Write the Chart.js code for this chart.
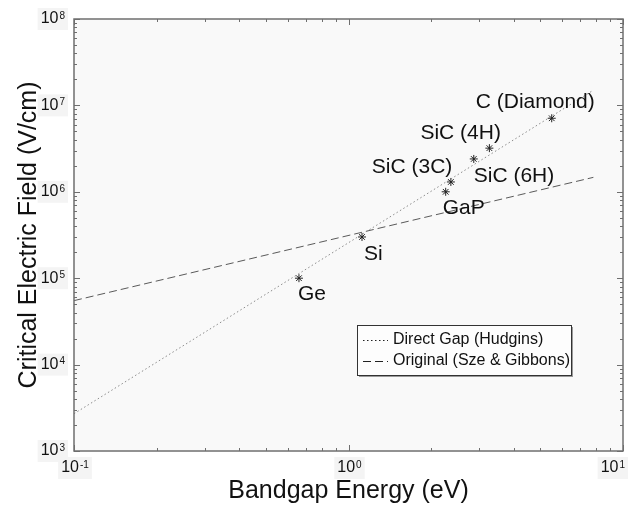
<!DOCTYPE html>
<html>
<head>
<meta charset="utf-8">
<script src="https://cdn.jsdelivr.net/npm/chart.js@4.4.1/dist/chart.umd.min.js"></script>
<style>
  html, body { margin: 0; padding: 0; background: #ffffff; }
  #grafico { display: block; }
</style>
</head>
<body>
<canvas id="grafico" width="629" height="510"></canvas>
<script>
// --- DATOS ---
const materiales = ['Ge', 'Si', 'GaP', 'SiC (3C)', 'SiC (6H)', 'SiC (4H)', 'C (Diamond)'];
const bandgap = [0.66, 1.12, 2.26, 2.36, 2.86, 3.26, 5.5];        // eV
const campoCritico = [1e5, 3e5, 1e6, 1.3e6, 2.4e6, 3.2e6, 7.1e6];  // V/cm

// rectas de ajuste (extremos)
const hudginsX = [0.1, 7.8];
const hudginsY = [2.7e3, 1.5e7];
const szeX = [0.1, 7.8];
const szeY = [5.5e4, 1.47e6];

const serieNombres = ['Direct Gap (Hudgins)', 'Original (Sze & Gibbons)'];
const exponentesX = [-1, 0, 1];
const exponentesY = [3, 4, 5, 6, 7, 8];

// --- ESTILO ---
const FUENTE = "'Liberation Sans', Arial, sans-serif";
const COLOR_EJE = '#6f6f6f';
// desplazamiento de cada etiqueta respecto a su punto (px)
const offsetsEtiquetas = [[-1, 16], [2, 17], [-3, 16], [-79, -15], [0, 17], [-69, -15], [-76, -16]];

const puntos = (xs, ys) => xs.map((x, i) => ({ x: x, y: ys[i] }));

// potencia de diez con exponente en superíndice
function dibujarPotencia(ctx, exp, x, y, alinear) {
    const base = '10';
    const sup = String(exp);
    ctx.font = '16px ' + FUENTE;
    const wb = ctx.measureText(base).width;
    ctx.font = '10px ' + FUENTE;
    const ws = ctx.measureText(sup).width;
    const total = wb + ws + 1;
    let x0 = x;
    if (alinear === 'right') x0 = x - total;
    if (alinear === 'center') x0 = x - total / 2;
    // que no se salga del lienzo
    x0 = Math.min(x0, ctx.canvas.width - total - 4);
    ctx.fillStyle = '#f4f4f4';
    ctx.fillRect(x0 - 3, y - 11, total + 6, 22);
    ctx.fillStyle = '#111';
    ctx.textBaseline = 'middle';
    ctx.textAlign = 'left';
    ctx.font = '16px ' + FUENTE;
    ctx.fillText(base, x0, y);
    ctx.font = '10px ' + FUENTE;
    ctx.fillText(sup, x0 + wb + 1, y - 3);
}

const pluginFondo = {
    id: 'fondoArea',
    beforeDraw(chart) {
        const { ctx, chartArea: a } = chart;
        ctx.save();
        ctx.fillStyle = '#f9f9f9';
        ctx.fillRect(a.left, a.top, a.right - a.left, a.bottom - a.top);
        ctx.restore();
    }
};

const pluginEjes = {
    id: 'ejesLog',
    afterDraw(chart) {
        const { ctx, chartArea: a } = chart;
        const sx = chart.scales.x, sy = chart.scales.y;
        ctx.save();

        // marcas menores y mayores hacia dentro, en los cuatro lados
        ctx.strokeStyle = COLOR_EJE;
        ctx.lineWidth = 1;
        ctx.beginPath();
        for (let k = -1; k <= 1; k++) {
            for (let m = 1; m <= 9; m++) {
                const v = m * Math.pow(10, k);
                if (v < sx.min || v > sx.max) continue;
                const px = Math.round(sx.getPixelForValue(v)) + 0.5;
                const len = m === 1 ? 6 : 3;
                ctx.moveTo(px, a.bottom); ctx.lineTo(px, a.bottom - len);
                ctx.moveTo(px, a.top); ctx.lineTo(px, a.top + len);
            }
        }
        for (let k = 3; k <= 8; k++) {
            for (let m = 1; m <= 9; m++) {
                const v = m * Math.pow(10, k);
                if (v < sy.min || v > sy.max) continue;
                const py = Math.round(sy.getPixelForValue(v)) + 0.5;
                const len = m === 1 ? 6 : 3;
                ctx.moveTo(a.left, py); ctx.lineTo(a.left + len, py);
                ctx.moveTo(a.right, py); ctx.lineTo(a.right - len, py);
            }
        }
        ctx.stroke();

        // marco
        ctx.lineWidth = 1.5;
        ctx.strokeRect(a.left, a.top, a.right - a.left, a.bottom - a.top);

        // rótulos de las marcas
        exponentesY.forEach(e => dibujarPotencia(ctx, e, a.left - 9, sy.getPixelForValue(Math.pow(10, e)), 'right'));
        exponentesX.forEach(e => dibujarPotencia(ctx, e, sx.getPixelForValue(Math.pow(10, e)) + 1, a.bottom + 17, 'center'));

        // títulos de los ejes
        ctx.fillStyle = '#111';
        ctx.font = '25px ' + FUENTE;
        ctx.textAlign = 'center';
        ctx.textBaseline = 'middle';
        ctx.fillText('Bandgap Energy (eV)', (a.left + a.right) / 2, 491);
        ctx.save();
        ctx.translate(29, (a.top + a.bottom) / 2);
        ctx.rotate(-Math.PI / 2);
        ctx.fillText('Critical Electric Field (V/cm)', 0, 0);
        ctx.restore();

        // nombres de los materiales junto a cada punto
        const meta = chart.getDatasetMeta(2);
        ctx.font = '21px ' + FUENTE;
        ctx.textAlign = 'left';
        ctx.fillStyle = '#111';
        meta.data.forEach((p, i) => {
            const [dx, dy] = offsetsEtiquetas[i];
            ctx.fillText(materiales[i], p.x + dx, p.y + dy);
        });

        // leyenda
        const lx = 357, ly = 325, lw = 214, lh = 50;
        ctx.fillStyle = '#9a9a9a';
        ctx.fillRect(lx + 2, ly + 2, lw, lh);
        ctx.fillStyle = '#fdfdfd';
        ctx.fillRect(lx, ly, lw, lh);
        ctx.strokeStyle = '#333';
        ctx.lineWidth = 1;
        ctx.strokeRect(lx + 0.5, ly + 0.5, lw, lh);
        ctx.font = '16px ' + FUENTE;
        [0, 1].forEach(i => {
            const ds = chart.data.datasets[i];
            const yy = ly + 15 + i * 21;
            ctx.strokeStyle = '#222';
            ctx.setLineDash(ds.borderDash);
            ctx.beginPath();
            ctx.moveTo(lx + 6, yy + 0.5);
            ctx.lineTo(lx + 31, yy + 0.5);
            ctx.stroke();
            ctx.setLineDash([]);
            ctx.fillStyle = '#111';
            ctx.fillText(serieNombres[i], lx + 36, yy);
        });

        ctx.restore();
    }
};

new Chart(document.getElementById('grafico'), {
    type: 'scatter',
    data: {
        datasets: [
            {
                label: serieNombres[0],
                data: puntos(hudginsX, hudginsY),
                showLine: true,
                borderColor: '#8c8c8c',
                borderWidth: 1,
                borderDash: [1.5, 2.5],
                pointRadius: 0
            },
            {
                label: serieNombres[1],
                data: puntos(szeX, szeY),
                showLine: true,
                borderColor: '#5a5a5a',
                borderWidth: 1,
                borderDash: [8, 4],
                pointRadius: 0
            },
            {
                label: 'Materiales',
                data: puntos(bandgap, campoCritico),
                showLine: false,
                pointStyle: 'star',
                pointRadius: 4,
                borderColor: '#222',
                backgroundColor: '#222',
                borderWidth: 1
            }
        ]
    },
    options: {
        responsive: false,
        animation: false,
        layout: { padding: { left: 74, top: 19, right: 6, bottom: 59 } },
        plugins: { legend: { display: false }, tooltip: { enabled: false } },
        scales: {
            x: { type: 'logarithmic', min: 0.1, max: 10, display: false },
            y: { type: 'logarithmic', min: 1e3, max: 1e8, display: false }
        }
    },
    plugins: [pluginFondo, pluginEjes]
});
</script>
</body>
</html>
